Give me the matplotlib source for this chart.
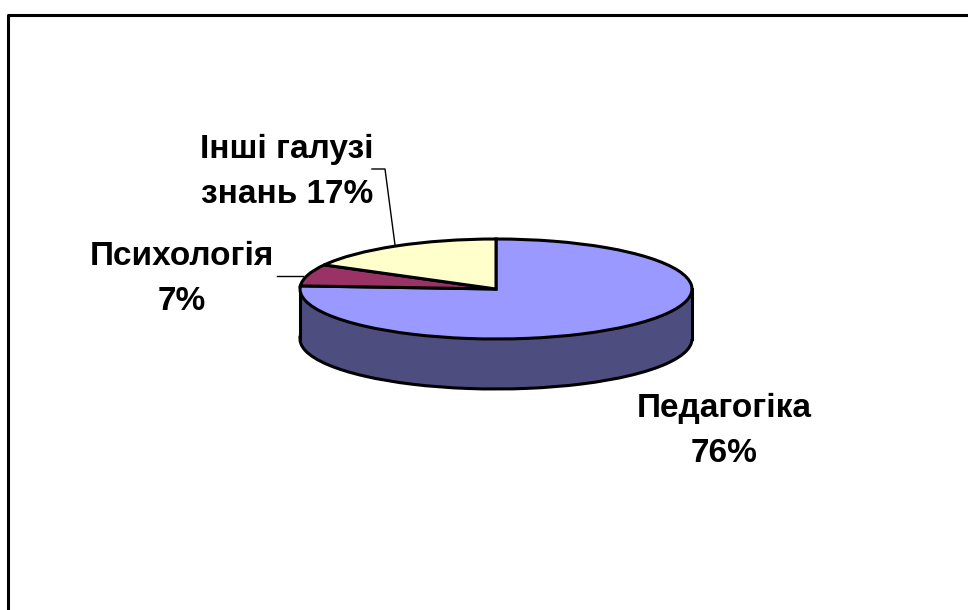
import matplotlib
matplotlib.use('Agg')
import matplotlib.pyplot as plt
from matplotlib.patches import Rectangle

W, H = 968, 610
# share of each field, clockwise from 12 o'clock
labels = ['Педагогіка\n76%', 'Психологія\n7%', 'Інші галузі\nзнань 17%']
values = [76, 7, 17]
top_colors = ['#9999FF', '#993366', '#FFFFCC']
side_colors = ['#4D4D80', '#4D1A33', '#808066']

plt.rcParams['font.family'] = ['Liberation Sans', 'DejaVu Sans']
fig = plt.figure(figsize=(W / 100, H / 100), dpi=100)
ax = fig.add_axes([0, 0, 1, 1])

# pie centre / radii in pixels, one data unit = one radius
cx, cy, rx, ry, depth = 496, 289, 196, 50, 50
d = depth / ry

# bottom of the cylinder, then blocks joining it to the top
ax.pie(values, colors=side_colors, startangle=90, counterclock=False, center=(0, -d),
       wedgeprops=dict(edgecolor='black', linewidth=2.2))
ax.add_patch(Rectangle((-1, -d), 2, d, facecolor=side_colors[0], edgecolor='none', zorder=2))
# slightly lower one hides the radial edges of the bottom pie
ax.add_patch(Rectangle((-0.97, -d - 0.15), 1.94, d, facecolor=side_colors[0], edgecolor='none', zorder=2))
ax.plot([-1, -1], [0, -d], color='black', lw=2.2, zorder=3)
ax.plot([1, 1], [0, -d], color='black', lw=2.2, zorder=3)

# top face
wedges, _ = ax.pie(values, colors=top_colors, startangle=90, counterclock=False,
                   wedgeprops=dict(edgecolor='black', linewidth=2.2))
for w in wedges:
    w.set_zorder(4)

ax.set_aspect('auto')
ax.set_xlim(-cx / rx, (W - cx) / rx)
ax.set_ylim(-(H - cy) / ry, cy / ry)
ax.axis('off')


def px(x, y):
    return x / W, 1 - y / H


def line(xs, ys, lw, color='black'):
    pts = [px(x, y) for x, y in zip(xs, ys)]
    fig.add_artist(plt.Line2D([p[0] for p in pts], [p[1] for p in pts], color=color, lw=lw))


# outer frame, only top and left reach the picture
line([8, 8, W], [H, 14.5, 14.5], 2.2)

# leader lines
line([277, 303], [276, 276], 1.0)
line([372, 385, 395], [169, 169, 245], 1.0)

# labels
positions = [(724, 431), (182, 279), (287, 172)]
for lab, (x, y) in zip(labels, positions):
    fx, fy = px(x, y)
    fig.text(fx, fy, lab, ha='center', va='center', fontsize=24, fontweight='bold',
             color='black', linespacing=1.55)

fig.savefig('out.png', dpi=100)
